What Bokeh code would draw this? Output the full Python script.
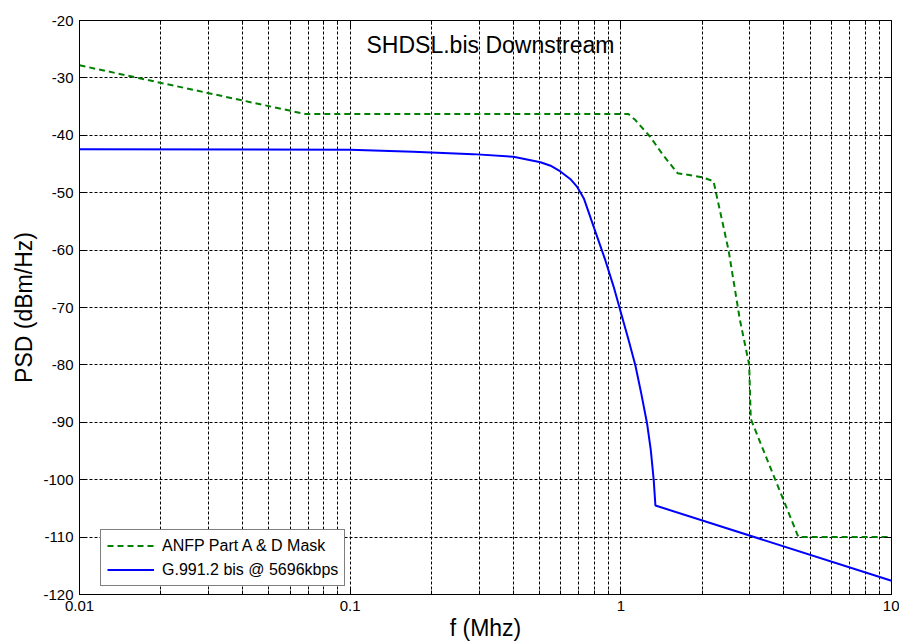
from bokeh.plotting import figure
from bokeh.models import (Range1d, FixedTicker, CustomJSTickFormatter, LinearAxis,
                          LogAxis, Label, Legend, LegendItem)
from bokeh.embed import file_html
from bokeh.resources import INLINE

# ---------------- data ----------------
freq_mask = [0.01, 0.0684, 1.067, 1.132, 1.286, 1.42, 1.62, 2.0, 2.2, 2.5, 2.75, 2.98, 3.02, 4.53, 10.0]
psd_mask = [-27.8, -36.3, -36.3, -37.35, -40.3, -43.2, -46.6, -47.3, -48.0, -60.0, -72.0, -80.0, -89.4, -110.0, -110.0]

freq_g9912 = [0.01, 0.1, 0.171, 0.285, 0.401, 0.505, 0.55, 0.598, 0.65, 0.69, 0.73,
              0.794, 0.877, 0.941, 1.011, 1.07, 1.132, 1.19, 1.25, 1.29, 1.323, 1.342, 10.0]
psd_g9912 = [-42.45, -42.5, -42.88, -43.28, -43.75, -44.7, -45.3, -46.3, -47.6, -49.0, -51.0,
             -55.95, -61.8, -66.4, -71.65, -75.8, -80.1, -85.0, -90.2, -94.8, -100.1, -104.5, -117.6]

series_names = ["ANFP Part A & D Mask", "G.991.2 bis @ 5696kbps"]
x_major_ticks = [0.01, 0.1, 1, 10]
x_minor_ticks = [0.02, 0.03, 0.04, 0.05, 0.06, 0.07, 0.08, 0.09,
                 0.2, 0.3, 0.4, 0.5, 0.6, 0.7, 0.8, 0.9,
                 2, 3, 4, 5, 6, 7, 8, 9]
y_ticks = [-120, -110, -100, -90, -80, -70, -60, -50, -40, -30, -20]
title_text = "SHDSL.bis Downstream"
x_label = "f (Mhz)"
y_label = "PSD (dBm/Hz)"

FONT = "Liberation Sans"

p = figure(width=899, height=643, x_axis_type="log",
           x_range=Range1d(0.01, 10), y_range=Range1d(-120, -20),
           output_backend="svg", toolbar_location=None,
           min_border_left=79, min_border_right=8, min_border_top=20, min_border_bottom=49)
p.background_fill_color = "white"
p.border_fill_color = "white"
p.outline_line_color = "black"
p.outline_line_width = 1
p.outline_line_alpha = 1

# bottom axis
xa = p.xaxis[0]
xa.ticker = FixedTicker(ticks=x_major_ticks, minor_ticks=x_minor_ticks)
xa.formatter = CustomJSTickFormatter(code="return tick.toString();")
xa.axis_label = x_label
xa.axis_label_text_font = FONT
xa.axis_label_text_font_size = "23px"
xa.axis_label_text_font_style = "normal"
xa.axis_label_text_color = "black"
xa.axis_label_standoff = 1
xa.major_label_text_font = FONT
xa.major_label_text_font_size = "15px"
xa.major_label_text_color = "black"
xa.major_label_standoff = 6
xa.major_tick_in = 7
xa.major_tick_out = 0
xa.minor_tick_in = 4
xa.minor_tick_out = 0
xa.axis_line_color = "black"
xa.major_tick_line_color = "black"
xa.minor_tick_line_color = "black"

# left axis
ya = p.yaxis[0]
ya.ticker = FixedTicker(ticks=y_ticks)
ya.formatter = CustomJSTickFormatter(code="return tick.toFixed(0);")
ya.axis_label = y_label
ya.axis_label_text_font = FONT
ya.axis_label_text_font_size = "23px"
ya.axis_label_text_font_style = "normal"
ya.axis_label_text_color = "black"
ya.axis_label_standoff = 3
ya.major_label_text_font = FONT
ya.major_label_text_font_size = "15px"
ya.major_label_text_color = "black"
ya.major_label_standoff = 6
ya.major_tick_in = 7
ya.major_tick_out = 0
ya.minor_tick_line_color = None
ya.axis_line_color = "black"
ya.major_tick_line_color = "black"

# top and right axes (ticks only)
top = LogAxis(ticker=FixedTicker(ticks=x_major_ticks, minor_ticks=x_minor_ticks),
              formatter=CustomJSTickFormatter(code="return '';"),
              major_tick_in=7, major_tick_out=0, minor_tick_in=4, minor_tick_out=0,
              major_label_text_font_size="0px", major_label_standoff=0,
              axis_line_color="black", major_tick_line_color="black",
              minor_tick_line_color="black")
p.add_layout(top, "above")
right = LinearAxis(ticker=FixedTicker(ticks=y_ticks),
                   formatter=CustomJSTickFormatter(code="return '';"),
                   major_tick_in=7, major_tick_out=0, minor_tick_line_color=None,
                   major_label_text_font_size="0px", major_label_standoff=0,
                   axis_line_color="black", major_tick_line_color="black")
p.add_layout(right, "right")

# grids
p.xgrid.grid_line_color = "black"
p.xgrid.grid_line_dash = "3 2"
p.xgrid.grid_line_width = 1
p.xgrid.minor_grid_line_color = "black"
p.xgrid.minor_grid_line_dash = "3 2"
p.xgrid.minor_grid_line_width = 1
p.ygrid.grid_line_color = "black"
p.ygrid.grid_line_dash = "3 2"
p.ygrid.grid_line_width = 1

# lines
r1 = p.line(freq_mask, psd_mask, line_color="#008000", line_width=2, line_dash="6 4")
r2 = p.line(freq_g9912, psd_g9912, line_color="#0000FF", line_width=2)

# title inside the plot
p.add_layout(Label(x=0.33, y=-24.2, text=title_text, text_align="center",
                   text_baseline="middle", text_font=FONT, text_font_size="23px",
                   text_color="black"))

legend = Legend(items=[LegendItem(label=series_names[0], renderers=[r1]),
                       LegendItem(label=series_names[1], renderers=[r2])],
                location=(21, 8), border_line_color="black", border_line_width=1,
                background_fill_color="white", background_fill_alpha=1,
                padding=6, spacing=5, label_height=19, glyph_height=19,
                glyph_width=47, label_standoff=8, margin=0,
                label_text_font=FONT, label_text_font_size="16px",
                label_text_color="black")
p.add_layout(legend)

open("out.html", "w").write(file_html(p, INLINE))
